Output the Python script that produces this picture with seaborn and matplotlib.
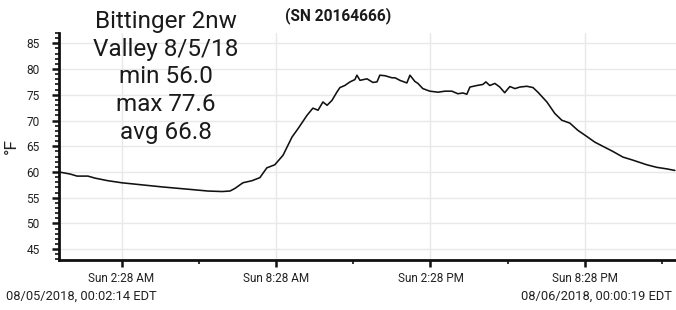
import matplotlib
matplotlib.use("Agg")
import matplotlib.pyplot as plt
import seaborn as sns
import pandas as pd
from matplotlib.ticker import MultipleLocator, FixedLocator

# ---- data (hours since midnight 08/05/2018, temperature °F) ----
hours = [0.04, 0.47, 0.74, 1.16, 1.44, 1.94, 2.48, 3.26, 4.04, 5.05, 5.82, 6.37,
         6.68, 6.87, 7.18, 7.53, 7.84, 8.11, 8.42, 8.74, 9.09, 9.32, 9.67, 9.90,
         10.10, 10.29, 10.45, 10.64, 10.83, 10.95, 11.14, 11.34, 11.53, 11.61,
         11.73, 12.00, 12.23, 12.39, 12.50, 12.70, 12.97, 13.09, 13.28, 13.55,
         13.67, 13.86, 13.98, 14.17, 14.44, 14.76, 15.03, 15.30, 15.53, 15.73,
         15.88, 16.00, 16.27, 16.50, 16.62, 16.77, 16.97, 17.16, 17.35, 17.55,
         17.75, 17.94, 18.21, 18.45, 18.64, 18.99, 19.30, 19.57, 19.88, 20.19,
         20.54, 20.85, 21.16, 21.55, 21.94, 22.33, 22.87, 23.26, 23.65, 23.96]
temps = [60.0, 59.6, 59.2, 59.2, 58.8, 58.3, 57.9, 57.5, 57.1, 56.65, 56.3, 56.2,
         56.3, 56.8, 57.9, 58.3, 58.9, 60.8, 61.4, 63.25, 66.8, 68.4, 71.0, 72.4,
         72.0, 73.6, 72.96, 73.9, 75.5, 76.4, 76.8, 77.5, 77.95, 78.8,
         77.8, 78.1, 77.4, 77.5, 78.8, 78.7, 78.3, 78.3, 77.8, 77.3,
         78.8, 77.6, 77.2, 76.2, 75.7, 75.5, 75.7, 75.7, 75.2, 75.35,
         75.1, 76.5, 76.8, 77.0, 77.5, 76.8, 77.2, 76.5, 75.4, 76.6,
         76.2, 76.5, 76.65, 76.4, 75.5, 73.6, 71.35, 70.05, 69.5, 68.1,
         66.9, 65.8, 65.0, 64.0, 62.9, 62.3, 61.4, 60.9, 60.6, 60.3]

major_tick_hours = [2.467, 8.467, 14.467, 20.467]
major_tick_labels = ["Sun 2:28 AM", "Sun 8:28 AM", "Sun 2:28 PM", "Sun 8:28 PM"]
minor_tick_hours = [5.467, 11.467, 17.467, 23.467]
y_ticks = [45, 50, 55, 60, 65, 70, 75, 80, 85]

title_lines = ["Bittinger 2nw", "Valley 8/5/18", "min 56.0", "max 77.6", "avg 66.8"]
serial = "(SN 20164666)"
start_label = "08/05/2018, 00:02:14 EDT"
end_label = "08/06/2018, 00:00:19 EDT"

df = pd.DataFrame({"hours": hours, "temp": temps})

sns.set_theme(style="white")
plt.rcParams["font.family"] = ["Roboto", "DejaVu Sans"]

fig = plt.figure(figsize=(6.76, 3.10), dpi=100)
ax = fig.add_axes([59 / 676, 50 / 310, 1 - 59 / 676, 227 / 310])

sns.lineplot(data=df, x="hours", y="temp", ax=ax, color="#111111", linewidth=1.15)

ax.set_xlim(0.037, 24.005)
ax.set_ylim(42.9, 87.0)

ax.xaxis.set_major_locator(FixedLocator(major_tick_hours))
ax.set_xticklabels(major_tick_labels)
ax.xaxis.set_minor_locator(FixedLocator(minor_tick_hours))
ax.set_yticks(y_ticks)
ax.yaxis.set_minor_locator(MultipleLocator(1))

ax.tick_params(axis="both", which="major", direction="out", length=5, width=1.8,
               color="#111111", labelcolor="#222222")
ax.tick_params(axis="both", which="minor", direction="out", length=3, width=1.2,
               color="#111111")
ax.tick_params(axis="x", which="major", labelsize=8.5, pad=4)
ax.tick_params(axis="y", which="major", labelsize=8.6, pad=9)
ax.tick_params(axis="x", which="both", bottom=True)
ax.tick_params(axis="y", which="both", left=True)

ax.grid(True, which="major", color="#e8e8e8", linewidth=1.0)
for side in ["top", "right"]:
    ax.spines[side].set_visible(False)
for side in ["left", "bottom"]:
    ax.spines[side].set_color("#111111")
    ax.spines[side].set_linewidth(2.0)

ax.set_xlabel("")
ax.set_ylabel("")
fig.text(11 / 676, 1 - 146 / 310, "°F", rotation=90, ha="center", va="center",
         fontsize=12.5, color="#222222")

fig.text(166 / 676, 1 - 10 / 310, "\n".join(title_lines), ha="center", va="top",
         fontsize=17.5, color="#1a1a1a", linespacing=1.26)
fig.text(338 / 676, 1 - 16 / 310, serial, ha="center", va="center",
         fontsize=11.2, fontweight="bold", color="#1a1a1a")
fig.text(6 / 676, 1 - 296 / 310, start_label, ha="left", va="center",
         fontsize=9.3, color="#222222")
fig.text(672 / 676, 1 - 296 / 310, end_label, ha="right", va="center",
         fontsize=9.3, color="#222222")

fig.savefig("out.png", dpi=100)
